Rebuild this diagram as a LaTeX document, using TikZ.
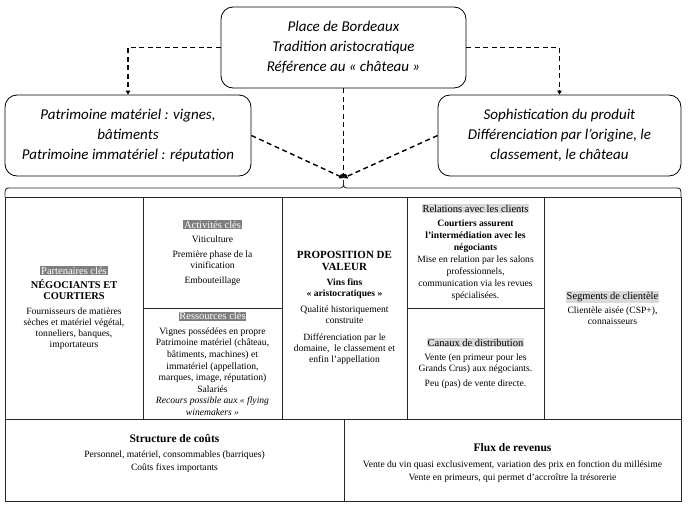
\documentclass[tikz,border=0pt]{standalone}
\usepackage{fontspec}
\setmainfont{Liberation Serif}
\newfontfamily\calibri{Carlito}
\usetikzlibrary{arrows.meta}
\definecolor{hdark}{HTML}{7F7F7F}
\definecolor{hlight}{HTML}{D9D9D9}
\newcommand\hdk[1]{{\fontsize{10.5}{12}\selectfont\setlength{\fboxsep}{0.8pt}\colorbox{hdark}{\textcolor{white}{#1}}}}
\newcommand\hlt[1]{{\fontsize{10.5}{12}\selectfont\setlength{\fboxsep}{0.8pt}\colorbox{hlight}{#1}}}
\newcommand\bigb[1]{{\fontsize{11}{13}\selectfont\bfseries #1}}
\newcommand\medb[1]{{\fontsize{10.4}{11}\selectfont\bfseries #1}}
\newcommand\titb[1]{{\fontsize{11.5}{13}\selectfont\bfseries #1}}
\tikzset{
  topbox/.style={draw, line width=0.8pt, rounded corners=12pt, align=center,
    font=\calibri\itshape\fontsize{15}{20}\selectfont, inner sep=0pt},
  dashconn/.style={line width=1.4pt, dash pattern=on 5pt off 3.5pt, -{Triangle[length=4pt,width=4.5pt]}},
  cell/.style={draw=black!85, line width=0.8pt, inner sep=0pt},
  ctext/.style={align=center, font=\fontsize{9.6}{11}\selectfont, inner sep=0pt},
}
\begin{document}
\begin{tikzpicture}[x=1pt, y=-1pt]
\useasboundingbox (0,0) rectangle (689,508);
% top boxes
\node[topbox, minimum width=245pt, minimum height=81pt] (top) at (343.5,47.5)
  {Place de Bordeaux\\Tradition aristocratique\\Référence au « château »};
\node[topbox, minimum width=246pt, minimum height=81pt] (lbox) at (128,135.5)
  {Patrimoine matériel : vignes,\\bâtiments\\Patrimoine immatériel : réputation};
\node[topbox, minimum width=243pt, minimum height=81pt] (rbox) at (559.5,135.5)
  {Sophistication du produit\\Différenciation par l’origine, le\\classement, le château};
\coordinate (tip) at (343.5,178);
% connectors
\draw[dashconn] (top.west) -| (lbox.north);
\draw[dashconn] (top.east) -| (rbox.north);
\draw[dashconn] (top.south) -- (tip);
\draw[dashconn] (lbox.east) -- (tip);
\draw[dashconn] (rbox.west) -- (tip);
% brace
\draw[line width=0.8pt, black!85] (5,197) .. controls (5,188) .. (11,188) -- (338,188)
  .. controls (343.5,188) .. (343.5,180) .. controls (343.5,188) .. (349,188) -- (675,188)
  .. controls (681,188) .. (681,197);
% canvas cells
\node[cell, minimum width=138pt, minimum height=222pt] (kp) at (74,308) {};
\node[cell, minimum width=139pt, minimum height=111pt] (ka) at (212.5,252.5) {};
\node[cell, minimum width=139pt, minimum height=111pt] (kr) at (212.5,363.5) {};
\node[cell, minimum width=125pt, minimum height=222pt] (vp) at (344.5,308) {};
\node[cell, minimum width=137pt, minimum height=111pt] (cr) at (475.5,252.5) {};
\node[cell, minimum width=137pt, minimum height=111pt] (ch) at (475.5,363.5) {};
\node[cell, minimum width=137pt, minimum height=222pt] (cs) at (612.5,308) {};
\node[cell, minimum width=339pt, minimum height=82pt] (cost) at (174.5,460) {};
\node[cell, minimum width=337pt, minimum height=82pt] (rev) at (512.5,460) {};
% texts
\node[ctext] (kpt) at (kp.center) {\hdk{Partenaires clés}\\[3pt]
  \medb{NÉGOCIANTS ET}\\\medb{COURTIERS}\\[4pt]
  Fournisseurs de matières\\sèches et matériel végétal,\\tonneliers, banques,\\importateurs};
\node[ctext] (kat) at (ka.center) {\hdk{Activités clés}\\[3pt]
  Viticulture\\[4pt] Première phase de la\\vinification\\[4pt] Embouteillage};
\node[ctext, font=\fontsize{9.6}{11.6}\selectfont] (krt) at (kr.center) {\hdk{Ressources clés}\\[3pt]
  Vignes possédées en propre\\Patrimoine matériel (château,\\bâtiments, machines) et\\immatériel (appellation,\\marques, image, réputation)\\Salariés\\
  \textit{Recours possible aux « flying}\\\textit{winemakers »}};
\node[ctext, font=\fontsize{9.6}{11.3}\selectfont] (vpt) at (vp.center) {\bigb{PROPOSITION DE}\\[1pt]\bigb{VALEUR}\\[3pt]
  \textbf{Vins fins}\\\textbf{« aristocratiques »}\\[5pt]
  Qualité historiquement\\construite\\[5pt]
  Différenciation par le\\domaine,~ le classement et\\enfin l’appellation};
\node[ctext, font=\fontsize{9.6}{12}\selectfont] (crt) at (cr.center) {\hlt{Relations avec les clients}\\[2pt]
  \textbf{Courtiers assurent}\\\textbf{l’intermédiation avec les}\\\textbf{négociants}\\
  Mise en relation par les salons\\professionnels,\\communication via les revues\\spécialisées.};
\node[ctext] (cht) at (ch.center) {\hlt{Canaux de distribution}\\[3pt]
  Vente (en primeur pour les\\Grands Crus) aux négociants.\\[4pt]
  Peu (pas) de vente directe.};
\node[ctext] (cst) at (cs.center) {\hlt{Segments de clientèle}\\[3pt]
  Clientèle aisée (CSP+),\\connaisseurs};
\node[ctext, font=\fontsize{9.6}{13}\selectfont] (costt) at (174.5,453) {\titb{Structure de coûts}\\[2pt]
  Personnel, matériel, consommables (barriques)\\Coûts fixes importants};
\node[ctext, font=\fontsize{9.6}{13}\selectfont] (revt) at (512.5,463) {\titb{Flux de revenus}\\[3pt]
  Vente du vin quasi exclusivement, variation des prix en fonction du millésime\\Vente en primeurs, qui permet d’accroître la trésorerie};
\end{tikzpicture}
\end{document}
